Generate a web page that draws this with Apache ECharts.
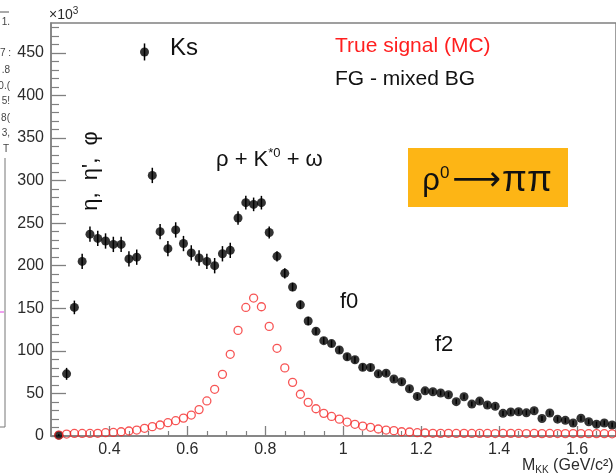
<!DOCTYPE html>
<html>
<head>
<meta charset="utf-8">
<script src="https://cdn.jsdelivr.net/npm/echarts@6/dist/echarts.min.js"></script>
<style>
  html, body { margin: 0; padding: 0; background: #fff; }
  #chart { width: 616px; height: 476px; }
</style>
</head>
<body>
<div id="chart"></div>
<script>
// Bin centres of the pair mass (GeV/c^2)
const massBins = [
  0.27, 0.29, 0.31, 0.33, 0.35, 0.37, 0.39, 0.41, 0.43, 0.45,
  0.47, 0.49, 0.51, 0.53, 0.55, 0.57, 0.59, 0.61, 0.63, 0.65,
  0.67, 0.69, 0.71, 0.73, 0.75, 0.77, 0.79, 0.81, 0.83, 0.85,
  0.87, 0.89, 0.91, 0.93, 0.95, 0.97, 0.99, 1.01, 1.03, 1.05,
  1.07, 1.09, 1.11, 1.13, 1.15, 1.17, 1.19, 1.21, 1.23, 1.25,
  1.27, 1.29, 1.31, 1.33, 1.35, 1.37, 1.39, 1.41, 1.43, 1.45,
  1.47, 1.49, 1.51, 1.53, 1.55, 1.57, 1.59, 1.61, 1.63, 1.65,
  1.67, 1.69
];

// Foreground minus mixed-event background (x10^3 counts)
const fgMinusMixed = [
  1, 73, 151, 205, 237, 232, 229, 225, 225, 208,
  210, 451, 306, 240, 220, 242, 226, 215, 209, 205,
  200, 214, 218, 256, 274, 272, 274, 239, 211, 191,
  175, 154, 135, 123, 112, 108.5, 101, 93, 89.5, 80.8,
  80.4, 73, 73.8, 67, 63.7, 55.5, 46.5, 53, 52, 50.5,
  48.5, 40.3, 46.1, 37.5, 41, 36.4, 34.8, 26.6, 28.2, 28.5,
  27.2, 29.7, 20.5, 27, 19.8, 18.4, 15.3, 20.8, 16.8, 13.9,
  15.3, 12.9
];

// Statistical uncertainty of each foreground-minus-background bin
const fgErrors = [
  1, 7, 8, 9, 9, 9, 9, 9, 9, 9,
  9, 10, 9, 9, 9, 9, 9, 9, 9, 9,
  9, 9, 9, 8, 8, 8, 8, 7, 6, 6,
  5, 5, 5, 4, 4, 4, 4, 4, 4, 4,
  4, 3, 3, 3, 3, 3, 3, 3, 3, 3,
  3, 3, 3, 3, 3, 3, 3, 3, 3, 3,
  3, 3, 3, 3, 3, 3, 3, 3, 3, 3,
  3, 3
];

// Monte-Carlo true rho0 -> pi pi signal (x10^3 counts)
const trueSignalMC = [
  1, 2.3, 3, 3, 3, 3.2, 3.9, 4.2, 5, 5.9,
  7, 9, 11, 12.9, 15.6, 18, 21, 24.6, 31, 41.2,
  54.8, 72.4, 95.9, 124, 151, 162, 151.8, 128.7, 103, 80,
  63, 49, 39.5, 32, 26.6, 23, 19.8, 16.4, 13.7, 11.7,
  10.2, 8.2, 7, 6.3, 5, 4.7, 3.9, 3.5, 3.2, 3.1,
  3.2, 3, 3.1, 3, 3.1, 3, 2.9, 3, 3.1, 3,
  2.9, 3, 2.8, 3, 2.9, 2.8, 2.9, 2.8, 2.7, 2.8,
  2.7, 2.6
];

// Axis tick positions and labels
const xMajorTicks = [0.4, 0.6, 0.8, 1.0, 1.2, 1.4, 1.6];
const xMinorTicks = [0.3, 0.35, 0.45, 0.5, 0.55, 0.65, 0.7, 0.75, 0.85, 0.9, 0.95,
                     1.05, 1.1, 1.15, 1.25, 1.3, 1.35, 1.45, 1.5, 1.55, 1.65];
const yMajorTicks = [0, 50, 100, 150, 200, 250, 300, 350, 400, 450];
const yMinorTicks = [10, 20, 30, 40, 60, 70, 80, 90, 110, 120, 130, 140, 160, 170, 180, 190,
                     210, 220, 230, 240, 260, 270, 280, 290, 310, 320, 330, 340, 360, 370, 380, 390,
                     410, 420, 430, 440, 460, 470, 480];

const FONT = '"Liberation Sans", Arial, Helvetica, sans-serif';
const AXIS_GRAY = '#808080';
const TEXT_DARK = '#2b2b2b';
const INK = '#111';
const MC_RED = '#f52a2a';

const chart = echarts.init(document.getElementById('chart'), null, { renderer: 'canvas' });

const fgPoints = massBins.map((m, i) => [m, fgMinusMixed[i]]);
const fgBars = massBins.map((m, i) => [m, fgMinusMixed[i], fgErrors[i]]);
const mcPoints = massBins.map((m, i) => [m, trueSignalMC[i]]);

function xAxisCommon() {
  return { type: 'value', min: 0.25, max: 1.70, position: 'bottom', gridIndex: 0,
           splitLine: { show: false } };
}
function yAxisCommon() {
  return { type: 'value', min: 0, max: 485, position: 'left', gridIndex: 0,
           splitLine: { show: false } };
}

function label(x, y, text, size, color) {
  return { type: 'text', x: x, y: y, z: 10,
    style: { text: text, font: size + 'px ' + FONT, fill: color || INK, textVerticalAlign: 'middle' } };
}

function fragment(x, y, text) {
  return { type: 'text', x: x, y: y,
    style: { text: text, font: '10px ' + FONT, fill: '#444', textAlign: 'right', textVerticalAlign: 'middle' } };
}

const option = {
  backgroundColor: '#ffffff',
  animation: false,
  grid: {
    left: 51, top: 23, width: 568, height: 413,
    show: true, borderColor: AXIS_GRAY, borderWidth: 1.5, backgroundColor: 'transparent'
  },
  xAxis: [
    Object.assign(xAxisCommon(), {
      axisLine: { show: true, onZero: false, lineStyle: { color: AXIS_GRAY, width: 1.5 } },
      axisTick: { show: true, inside: true, length: 10, customValues: xMajorTicks,
                  lineStyle: { color: AXIS_GRAY, width: 1.3 } },
      axisLabel: { show: true, customValues: xMajorTicks, margin: 6,
                   formatter: v => String(+(+v).toFixed(2)),
                   fontSize: 16, fontFamily: FONT, color: TEXT_DARK }
    }),
    Object.assign(xAxisCommon(), {
      axisLine: { show: false, onZero: false },
      axisTick: { show: true, inside: true, length: 5, customValues: xMinorTicks,
                  lineStyle: { color: AXIS_GRAY, width: 1.2 } },
      axisLabel: { show: false }
    })
  ],
  yAxis: [
    Object.assign(yAxisCommon(), {
      axisLine: { show: true, onZero: false, lineStyle: { color: AXIS_GRAY, width: 1.5 } },
      axisTick: { show: true, inside: true, length: 15, customValues: yMajorTicks,
                  lineStyle: { color: AXIS_GRAY, width: 1.3 } },
      axisLabel: { show: true, customValues: yMajorTicks, margin: 7,
                   fontSize: 16, fontFamily: FONT, color: TEXT_DARK }
    }),
    Object.assign(yAxisCommon(), {
      axisLine: { show: false, onZero: false },
      axisTick: { show: true, inside: true, length: 8, customValues: yMinorTicks,
                  lineStyle: { color: AXIS_GRAY, width: 1.2 } },
      axisLabel: { show: false }
    })
  ],
  series: [
    {
      name: 'FG - mixed BG errors',
      type: 'custom',
      xAxisIndex: 0, yAxisIndex: 0,
      z: 2,
      data: fgBars,
      encode: { x: 0, y: 1 },
      renderItem: function (params, api) {
        const x = api.value(0), y = api.value(1), e = api.value(2);
        const lo = api.coord([x, y - e]);
        const hi = api.coord([x, y + e]);
        return {
          type: 'line',
          shape: { x1: lo[0], y1: lo[1], x2: hi[0], y2: hi[1] },
          style: { stroke: '#000', lineWidth: 1.5 }
        };
      }
    },
    {
      name: 'FG - mixed BG',
      type: 'scatter',
      xAxisIndex: 0, yAxisIndex: 0,
      z: 3,
      symbol: 'circle',
      symbolSize: 9,
      itemStyle: { color: '#000' },
      data: fgPoints
    },
    {
      name: 'True signal (MC)',
      type: 'scatter',
      xAxisIndex: 0, yAxisIndex: 0,
      z: 4,
      symbol: 'circle',
      symbolSize: 8,
      itemStyle: { color: 'rgba(0,0,0,0)', borderColor: MC_RED, borderWidth: 1.3 },
      data: mcPoints
    }
  ],
  graphic: [
    // axis multiplier and axis title
    { type: 'text', x: 49, y: 15, z: 10,
      style: { text: '{a|×10}{s|3}', textVerticalAlign: 'middle', fill: TEXT_DARK,
               rich: { a: { fontSize: 14, fontFamily: FONT, fill: TEXT_DARK },
                       s: { fontSize: 10, fontFamily: FONT, fill: TEXT_DARK, padding: [0, 0, 8, 0] } } } },
    { type: 'text', x: 522, y: 466, z: 10,
      style: { text: '{a|M}{s|KK}{a| (GeV/c²)}', textVerticalAlign: 'middle', fill: TEXT_DARK,
               rich: { a: { fontSize: 16, fontFamily: FONT, fill: TEXT_DARK },
                       s: { fontSize: 10, fontFamily: FONT, fill: TEXT_DARK, padding: [8, 0, 0, 0] } } } },

    // resonance annotations
    label(170, 48, 'Ks', 24),
    label(335, 46, 'True signal (MC)', 21, '#ff1f1f'),
    label(335, 79, 'FG - mixed BG', 21),
    { type: 'text', x: 91, y: 171, rotation: Math.PI / 2, z: 10,
      style: { text: "η,  η',  φ", font: '22px ' + FONT, fill: INK,
               textAlign: 'center', textVerticalAlign: 'middle' } },
    { type: 'text', x: 216, y: 160, z: 10,
      style: { text: '{a|ρ + K}{s|*0}{a| + ω}', textVerticalAlign: 'middle', fill: INK,
               rich: { a: { fontSize: 22, fontFamily: FONT, fill: INK },
                       s: { fontSize: 13, fontFamily: FONT, fill: INK, padding: [0, 0, 13, 0] } } } },
    label(340, 302, 'f0', 22),
    label(435, 345, 'f2', 22),

    // highlighted decay box
    { type: 'rect', shape: { x: 408, y: 148, width: 160, height: 59 }, z: 9,
      style: { fill: '#fdb515' } },
    { type: 'text', x: 487, y: 181, z: 10,
      style: { text: '{a|ρ}{s|0}{r|⟶}{p|ππ}', textAlign: 'center', textVerticalAlign: 'middle', fill: INK,
               rich: { a: { fontSize: 31, fontFamily: FONT, fill: INK },
                       s: { fontSize: 17, fontFamily: FONT, fill: INK, padding: [0, 0, 15, 0] },
                       r: { fontSize: 34, fontFamily: '"DejaVu Sans", sans-serif', fill: INK, padding: [0, 1, 0, 3] },
                       p: { fontSize: 36, fontFamily: FONT, fill: INK } } } },

    // edge of the neighbouring panel
    { type: 'line', shape: { x1: 0, y1: 12, x2: 9, y2: 12 }, style: { stroke: '#555', lineWidth: 1 } },
    { type: 'line', shape: { x1: 5, y1: 158, x2: 5, y2: 427 }, style: { stroke: '#777', lineWidth: 1 } },
    { type: 'line', shape: { x1: 0, y1: 427, x2: 5, y2: 427 }, style: { stroke: '#777', lineWidth: 1 } },
    { type: 'line', shape: { x1: 0, y1: 312, x2: 4, y2: 312 }, style: { stroke: '#e040e0', lineWidth: 1 } },
    fragment(10, 22, '1.'),
    fragment(11, 53, '7 :'),
    fragment(10, 70, '.8'),
    fragment(10, 86, '0.('),
    fragment(10, 101, '5!'),
    fragment(10, 118, '8('),
    fragment(10, 133, '3,'),
    fragment(9, 149, 'T')
  ]
};

chart.setOption(option);
</script>
</body>
</html>
